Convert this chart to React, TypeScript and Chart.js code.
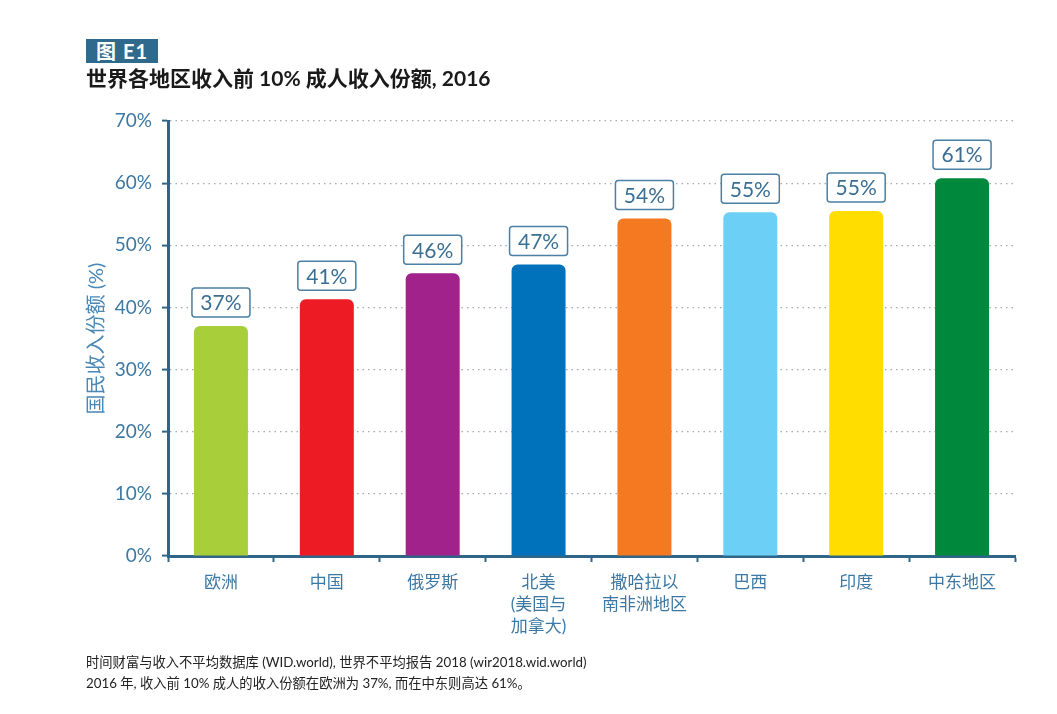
import React, { useEffect, useRef } from "react";
import { Chart, registerables } from "chart.js";

Chart.register(...registerables);

const categories: string[][] = [
  ["欧洲"],
  ["中国"],
  ["俄罗斯"],
  ["北美", "(美国与", "加拿大)"],
  ["撒哈拉以", "南非洲地区"],
  ["巴西"],
  ["印度"],
  ["中东地区"],
];
const values: number[] = [37.0, 41.3, 45.5, 46.9, 54.3, 55.3, 55.5, 60.8];
const valueLabels: string[] = ["37%", "41%", "46%", "47%", "54%", "55%", "55%", "61%"];
const barColors: string[] = [
  "#A8CE3A",
  "#ED1C24",
  "#A0228A",
  "#0071BB",
  "#F47920",
  "#6CCFF6",
  "#FFDD00",
  "#00883D",
];
const yTicks: number[] = [0, 10, 20, 30, 40, 50, 60, 70];

const FONT = "Lato, 'Noto Sans CJK SC', 'Noto Sans', sans-serif";
const AXIS = "#2F6688";
const TEXT_BLUE = "#3C78A4";

const labelPlugin = {
  id: "valueBoxes",
  afterDatasetsDraw(chart: any) {
    const ctx = chart.ctx;
    const meta = chart.getDatasetMeta(0);
    ctx.save();
    meta.data.forEach((bar: any, i: number) => {
      const w = 58;
      const h = 29;
      const x = bar.x - w / 2;
      const y = bar.y - 9 - h;
      ctx.beginPath();
      ctx.roundRect(x, y, w, h, 3);
      ctx.fillStyle = "#ffffff";
      ctx.fill();
      ctx.lineWidth = 1.5;
      ctx.strokeStyle = "#4B7FA3";
      ctx.stroke();
      ctx.fillStyle = "#3A6F93";
      ctx.font = `21px ${FONT}`;
      ctx.textAlign = "center";
      ctx.textBaseline = "middle";
      ctx.fillText(valueLabels[i], bar.x, y + h / 2 + 1);
    });
    ctx.restore();
  },
};

function BarChart() {
  const ref = useRef<HTMLCanvasElement | null>(null);
  useEffect(() => {
    if (!ref.current) return;
    const chart = new Chart(ref.current, {
      type: "bar",
      data: {
        labels: categories,
        datasets: [
          {
            data: values,
            backgroundColor: barColors,
            borderRadius: 6,
            borderSkipped: "bottom",
            barPercentage: 0.51,
            categoryPercentage: 1,
          },
        ],
      },
      options: {
        animation: false,
        responsive: false,
        maintainAspectRatio: false,
        events: [],
        layout: { padding: { top: 121, right: 42, left: 0, bottom: 0 } },
        plugins: {
          legend: { display: false },
          tooltip: { enabled: false },
        },
        scales: {
          x: {
            afterFit: (s: any) => {
              s.height = 158;
            },
            grid: {
              display: true,
              drawOnChartArea: false,
              drawTicks: true,
              tickLength: 6,
              tickColor: AXIS,
              tickWidth: 2,
              offset: true,
            },
            border: { display: true, color: AXIS, width: 3 },
            ticks: {
              color: TEXT_BLUE,
              font: { family: FONT, size: 17, lineHeight: 1.3 },
              padding: 9,
              maxRotation: 0,
              autoSkip: false,
            },
          },
          y: {
            min: 0,
            max: 70,
            afterFit: (s: any) => {
              s.width = 168;
            },
            afterBuildTicks: (s: any) => {
              s.ticks = yTicks.map((v) => ({ value: v }));
            },
            grid: {
              color: "#a8a8a8",
              lineWidth: 1.2,
              drawTicks: true,
              tickLength: 6,
              tickColor: AXIS,
              tickWidth: 2,
            },
            border: { display: true, color: AXIS, width: 3, dash: [1.5, 4] },
            ticks: {
              color: TEXT_BLUE,
              font: { family: FONT, size: 19 },
              padding: 10,
              callback: (v: any) => `${v}%`,
            },
            title: {
              display: true,
              text: "国民收入份额 (%)",
              color: "#4A88B5",
              font: { family: FONT, size: 20 },
              padding: { top: 85, bottom: 0 },
            },
          },
        },
      },
      plugins: [labelPlugin],
    });
    return () => chart.destroy();
  }, []);
  return (
    <canvas
      ref={ref}
      width={1057}
      height={714}
      style={{ position: "absolute", left: 0, top: 0, width: 1057, height: 714 }}
    />
  );
}

export default function App() {
  return (
    <div
      style={{
        position: "fixed",
        left: 0,
        top: 0,
        width: 1057,
        height: 714,
        background: "#ffffff",
        fontFamily: FONT,
        overflow: "hidden",
      }}
    >
      <BarChart />
      <div
        style={{
          position: "absolute",
          left: 86,
          top: 39,
          width: 72,
          height: 24,
          background: "#2F6A8D",
          color: "#ffffff",
          fontWeight: 700,
          fontSize: 20,
          lineHeight: "24px",
          textAlign: "center",
          letterSpacing: 1,
        }}
      >
        图 E1
      </div>
      <div
        style={{
          position: "absolute",
          left: 86,
          top: 64,
          fontWeight: 700,
          fontSize: 21,
          lineHeight: "27px",
          color: "#1a1a1a",
          whiteSpace: "nowrap",
        }}
      >
        世界各地区收入前 10% 成人收入份额, 2016
      </div>
      <div
        style={{
          position: "absolute",
          left: 86,
          top: 652,
          fontSize: 13.3,
          lineHeight: "21px",
          color: "#222222",
          whiteSpace: "nowrap",
        }}
      >
        <div>时间财富与收入不平均数据库 (WID.world), 世界不平均报告 2018 (wir2018.wid.world)</div>
        <div>2016 年, 收入前 10% 成人的收入份额在欧洲为 37%, 而在中东则高达 61%。</div>
      </div>
    </div>
  );
}
